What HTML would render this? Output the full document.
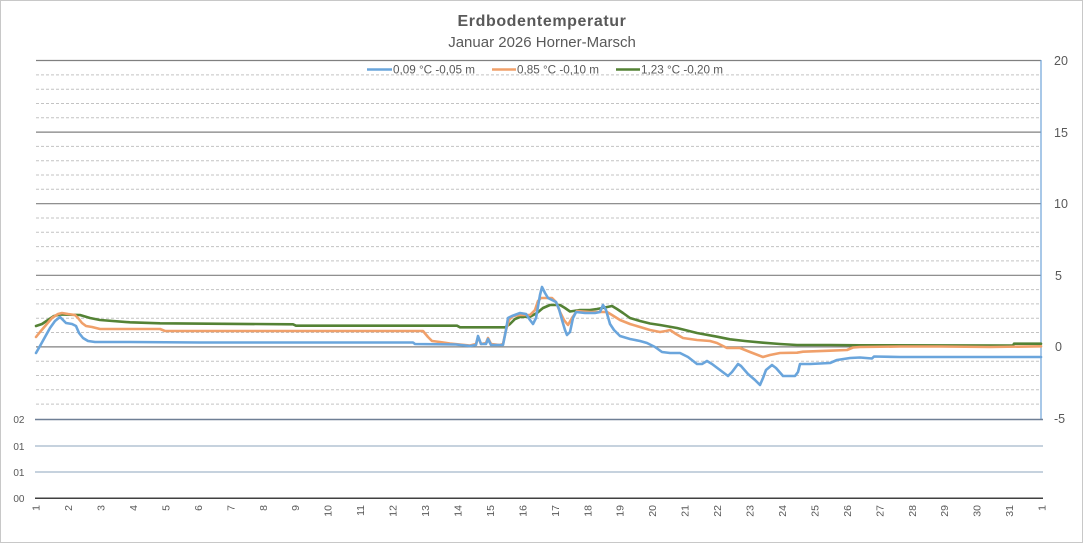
<!DOCTYPE html>
<html><head><meta charset="utf-8"><style>
html,body{margin:0;padding:0;background:#fff;}
svg{display:block;font-family:"Liberation Sans",Arial,sans-serif;}
</style></head><body>
<svg width="1084" height="544" viewBox="0 0 1084 544" xmlns="http://www.w3.org/2000/svg">
<rect x="0.5" y="0.5" width="1082" height="542" fill="#fff" stroke="#c8c8c8" stroke-width="1"/>
<text x="542" y="26" text-anchor="middle" font-size="16" font-weight="bold" fill="#595959" letter-spacing="0.6">Erdbodentemperatur</text>
<text x="542" y="47" text-anchor="middle" font-size="15" fill="#595959">Januar 2026 Horner-Marsch</text>
<!-- minor grid -->
<g stroke="#c3c3c3" stroke-width="1" stroke-dasharray="3,2">
<path d="M36 74.9H1041M36 89.2H1041M36 103.5H1041M36 117.8H1041M36 146.4H1041M36 160.7H1041M36 175H1041M36 189.3H1041M36 218H1041M36 232.3H1041M36 246.6H1041M36 260.9H1041M36 289.6H1041M36 303.9H1041M36 318.2H1041M36 332.5H1041M36 361.2H1041M36 375.5H1041M36 389.8H1041M36 404.1H1041"/>
</g>
<g stroke="#808080" stroke-width="1.2">
<path d="M36 60.5H1041M36 132.1H1041M36 203.7H1041M36 275.3H1041M36 346.9H1041"/>
</g>
<line x1="1041" y1="60" x2="1041" y2="419" stroke="#6fa3d8" stroke-width="1.2"/>
<!-- bottom section lines -->
<line x1="35" y1="419.5" x2="1043" y2="419.5" stroke="#6f7f95" stroke-width="1.6"/>
<line x1="35" y1="446" x2="1043" y2="446" stroke="#a5b6cb" stroke-width="1.2"/>
<line x1="35" y1="472" x2="1043" y2="472" stroke="#a5b6cb" stroke-width="1.2"/>
<line x1="35" y1="498.3" x2="1043" y2="498.3" stroke="#404040" stroke-width="1.5"/>
<!-- left labels -->
<g font-size="10" fill="#595959" text-anchor="end">
<text x="24.5" y="423">02</text>
<text x="24.5" y="450">01</text>
<text x="24.5" y="476">01</text>
<text x="24.5" y="502">00</text>
</g>
<!-- right labels -->
<g font-size="12.5" fill="#595959">
<text x="1054" y="65">20</text>
<text x="1054" y="137">15</text>
<text x="1054" y="208">10</text>
<text x="1055" y="280">5</text>
<text x="1055" y="351">0</text>
<text x="1054" y="423">-5</text>
</g>
<!-- x labels -->
<g font-size="10.5" fill="#595959" text-anchor="end">
<text transform="translate(39.6,505) rotate(-90)">1</text>
<text transform="translate(72.1,505) rotate(-90)">2</text>
<text transform="translate(104.5,505) rotate(-90)">3</text>
<text transform="translate(137,505) rotate(-90)">4</text>
<text transform="translate(169.4,505) rotate(-90)">5</text>
<text transform="translate(201.9,505) rotate(-90)">6</text>
<text transform="translate(234.3,505) rotate(-90)">7</text>
<text transform="translate(266.8,505) rotate(-90)">8</text>
<text transform="translate(299.2,505) rotate(-90)">9</text>
<text transform="translate(331.7,505) rotate(-90)">10</text>
<text transform="translate(364.1,505) rotate(-90)">11</text>
<text transform="translate(396.6,505) rotate(-90)">12</text>
<text transform="translate(429,505) rotate(-90)">13</text>
<text transform="translate(461.5,505) rotate(-90)">14</text>
<text transform="translate(493.9,505) rotate(-90)">15</text>
<text transform="translate(526.4,505) rotate(-90)">16</text>
<text transform="translate(558.8,505) rotate(-90)">17</text>
<text transform="translate(591.3,505) rotate(-90)">18</text>
<text transform="translate(623.7,505) rotate(-90)">19</text>
<text transform="translate(656.2,505) rotate(-90)">20</text>
<text transform="translate(688.6,505) rotate(-90)">21</text>
<text transform="translate(721.1,505) rotate(-90)">22</text>
<text transform="translate(753.5,505) rotate(-90)">23</text>
<text transform="translate(786,505) rotate(-90)">24</text>
<text transform="translate(818.4,505) rotate(-90)">25</text>
<text transform="translate(850.9,505) rotate(-90)">26</text>
<text transform="translate(883.3,505) rotate(-90)">27</text>
<text transform="translate(915.8,505) rotate(-90)">28</text>
<text transform="translate(948.2,505) rotate(-90)">29</text>
<text transform="translate(980.7,505) rotate(-90)">30</text>
<text transform="translate(1013.1,505) rotate(-90)">31</text>
<text transform="translate(1045.6,505) rotate(-90)">1</text>
</g>
<!-- series -->
<g fill="none" stroke-width="2.6" stroke-linejoin="round" stroke-linecap="round">
<polyline stroke="#548235" points="36,326 42,324 48,320 54,316 60,314.5 80,315 90,318 100,320 130,322.3 160,323.3 293,324.3 296,325.7 457,325.7 460,327.3 505,327.3 510,324 515,319 520,317 530,316.7 537,313 543,308 550,305 560,305 565,308 570,311.5 580,310 590,310 597,309 605,307.5 612,306 617,309 623,313 630,318 640,321 650,323.5 660,325 677,328 697,333 717,336.7 730,339.3 745,341 763,342.7 780,344 797,345 830,345 860,345.3 1013,345.5 1014,343.7 1041,343.7"/>
<polyline stroke="#f0a06a" points="36,337 40,332 46,325 52,318 58,314 62,313 68,314 75,315 78,318 82,323 86,326 92,327 100,329 160,329 165,331 300,331 423,331 428,337 432,341 440,342 450,343.5 470,345.5 476,344 478,337 481,344 486,343 488,338 491,344 500,345 503,344 506,330 509,320 513,316 520,315 530,315 535,310 538,301 541,298 552,298 556,302 560,312 564,320 568,325 572,318 577,311 590,312 600,312 607,312 612,315 620,320 630,324 640,327 650,330 660,332 666,331 670,330 676,334 683,338 697,340 710,341 717,343 727,348 740,348 750,352 763,357 770,355 780,353 797,352.7 803,351.7 830,350.7 847,350 853,347.5 860,347 900,346.5 940,346.5 990,347 1041,346.3"/>
<polyline stroke="#6aa5dc" points="36,353 40,346 45,337 50,328 55,321 60,317 63,320 66,323 72,324 76,326 79,333 83,338 88,341 95,342 130,342 200,342.5 300,342.5 413,342.5 415,344 456,344.5 470,346 476,345 478,336 481,344 486,344 488,339 491,345 503,345 506,330 508,318 512,316 520,313 526,314 530,320 533,324 536,318 540,295 542,287 545,293 548,298 552,300 556,302 559,309 562,320 565,330 567,335 570,332 573,318 576,312 585,313 595,313 600,312 603,305 606,310 610,324 614,330 620,336 630,339 640,341 647,343 655,347 662,352 670,353 680,353 688,357 697,364 702,364 707,361 712,364 720,370 728,376 732,372 738,364 741,366 748,374 755,380 760,385 763,378 766,370 772,365 776,368 783,376 795,376 798,372 800,364 810,364 830,363 837,360 850,358 860,357.5 872,358.5 874,356.5 900,357 1000,357 1041,357"/>
</g>
<!-- legend -->
<g stroke-width="2.6">
<line x1="367" y1="69.5" x2="392" y2="69.5" stroke="#6aa5dc"/>
<line x1="492" y1="69.5" x2="516" y2="69.5" stroke="#f0a06a"/>
<line x1="616" y1="69.5" x2="640" y2="69.5" stroke="#548235"/>
</g>
<g font-size="11.7" fill="#595959">
<text x="393" y="73.5">0,09 °C -0,05 m</text>
<text x="517" y="73.5">0,85 °C -0,10 m</text>
<text x="641" y="73.5">1,23 °C -0,20 m</text>
</g>
</svg>
</body></html>
